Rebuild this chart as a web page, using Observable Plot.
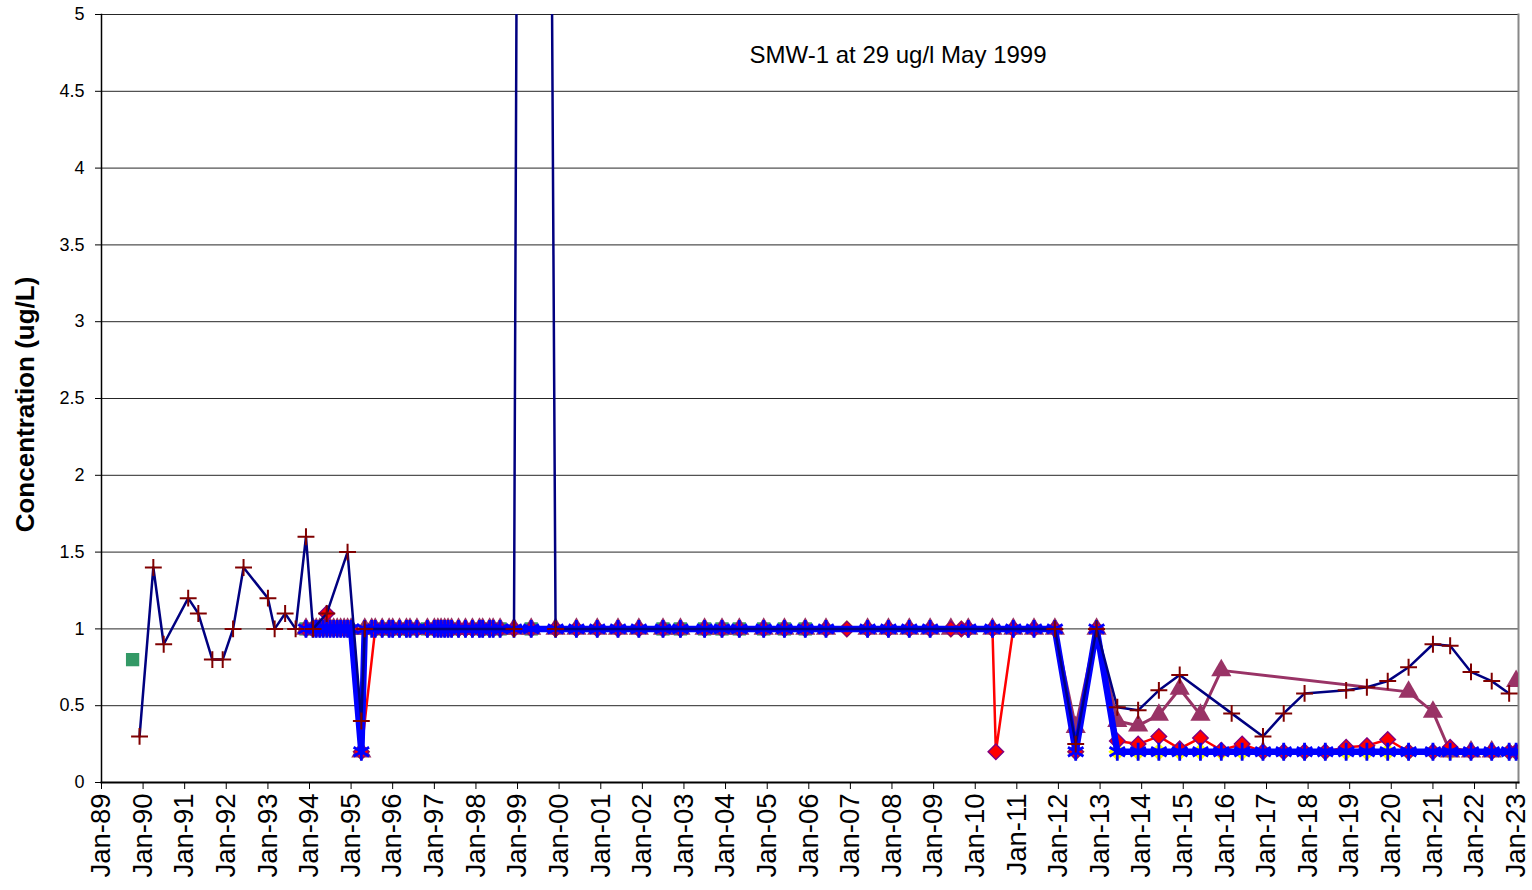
<!DOCTYPE html>
<html>
<head>
<meta charset="utf-8">
<script src="https://cdn.jsdelivr.net/npm/d3@7"></script>
<script src="https://cdn.jsdelivr.net/npm/@observablehq/plot@0.6"></script>
<style>
  html, body { margin: 0; padding: 0; background: #fff; }
  #chart svg { display: block; }
</style>
</head>
<body>
<div id="chart"></div>
<script>
// ---------- data ----------
const yearTicks = d3.range(1989, 2024).map(y => `${y}-01`);
const yTicks = [0, 0.5, 1, 1.5, 2, 2.5, 3, 3.5, 4, 4.5, 5];
const yLabel = "Concentration (ug/L)";
const annotation = "SMW-1 at 29 ug/l May 1999";

// navy line, dark red "+" markers
const navyDates = ["1989-12","1990-04","1990-07","1991-02","1991-05","1991-09","1991-12","1992-03","1992-06","1993-01",
  "1993-03","1993-06","1993-09","1993-12","1994-02","1994-06","1994-12","1995-04","1995-05","1998-12",
  "1999-05","1999-12","2011-12","2012-06","2012-12","2013-06","2013-12","2014-06","2014-12","2016-03",
  "2016-12","2017-06","2017-12","2018-12","2019-06","2019-12","2020-06","2021-01","2021-06","2021-12",
  "2022-06","2022-11"];
const navyValues = [0.3,1.4,0.9,1.2,1.1,0.8,0.8,1.0,1.4,1.2,
  1.0,1.1,1.0,1.6,1.0,1.1,1.5,0.4,1.0,1.0,
  29,1.0,1.0,0.25,1.0,0.49,0.47,0.6,0.7,0.45,
  0.3,0.45,0.58,0.6,0.62,0.66,0.75,0.9,0.89,0.72,
  0.66,0.58];

// green squares (markers only)
const greenDates = ["1989-10","1993-12","1994-03","1994-06","1994-09","1994-12","1995-10","1995-12","1996-03","1996-06",
  "1996-11","1997-03","1997-06","1998-02","1998-05","1998-08","1999-05","2002-07","2002-12","2003-07",
  "2003-12","2004-05","2004-12","2005-06","2005-12"];
const greenValues = [0.8,1,1,1,1,1,1,1,1,1, 1,1,1,1,1,1,1,1,1,1, 1,1,1,1,1];

// shared sampling dates of the other series
const sampleDates = ["1993-12","1994-02","1994-03","1994-04","1994-05","1994-06","1994-07","1994-08","1994-09","1994-10",
  "1994-11","1994-12","1995-01","1995-04","1995-05","1995-07","1995-08","1995-10","1995-12","1996-01",
  "1996-03","1996-05","1996-06","1996-08","1996-11","1997-01","1997-02","1997-03","1997-04","1997-05",
  "1997-06","1997-08","1997-10","1997-12","1998-02","1998-03","1998-05","1998-06","1998-08","1998-12",
  "1999-05","1999-12","2000-06","2000-12","2001-06","2001-12","2002-07","2002-12","2003-07","2003-12",
  "2004-05","2004-12","2005-06","2005-12","2006-06","2006-12","2007-06","2007-12","2008-06","2008-12",
  "2009-06","2009-09","2009-11","2010-06","2010-07","2010-12","2011-06","2011-12","2012-06","2012-12",
  "2013-06","2013-12","2014-06","2014-12","2015-06","2015-12","2016-06","2016-12","2017-06","2017-12",
  "2018-06","2018-12","2019-06","2019-12","2020-06","2021-01","2021-06","2021-12","2022-06","2022-11",
  "2023-01"];
// null = not sampled; NaN = break in the line
const blueValues = [1,1,1,1,1,1,1,1,1,1, 1,1,1,0.2,1,1,1,1,1,1,
  1,1,1,1,1,1,1,1,1,1, 1,1,1,1,1,1,1,1,1,1,
  1,1,1,1,1,1,1,1,1,1, 1,1,1,1,1,null,1,1,1,1,
  null,null,1,1,null,1,1,1,0.2,1,
  0.2,0.2,0.2,0.2,0.2,0.2,0.2,0.2,0.2,0.2, 0.2,0.2,0.2,0.2,0.2,0.2,0.2,0.2,0.2,0.2, 0.2];
const redValues = [1,1,1,1,1,1.1,1,1,1,1, 1,1,1,0.2,null,null,1,1,1,1,
  1,1,1,1,1,1,1,1,1,1, 1,1,1,1,1,1,1,1,1,1,
  1,1,1,1,1,1,1,1,1,1, 1,1,1,1,1,1,1,1,1,1,
  1,1,1,1,0.2,1,1,1,0.2,1,
  0.27,0.25,0.30,0.22,0.29,0.21,0.25,0.2,0.2,0.2, 0.2,0.23,0.24,0.28,0.2,0.2,0.23,0.2,0.2,0.2, 0.2];
const purpleValues = [1,1,1,1,1,1,1,1,1,1, 1,1,1,0.2,1,1,1,1,1,1,
  1,1,1,1,1,1,1,1,1,1, 1,1,1,1,1,1,1,1,1,1,
  1,1,1,1,1,1,1,1,1,1, 1,1,1,1,1,null,1,1,1,1,
  1,null,1,1,null,1,1,1,0.36,1,
  0.40,0.37,0.44,0.61,0.44,0.73,null,null,null,null, null,null,null,null,0.59,0.46,0.2,0.2,0.2,NaN, 0.66];
const yellowValues = [1,1,1,1,1,1,1,1,1,1, 1,1,1,0.2,1,1,1,1,1,1,
  1,1,1,1,1,1,1,1,1,1, 1,1,1,1,1,1,1,1,1,1,
  1,1,1,1,1,1,1,1,1,1, 1,1,1,1,1,1,1,1,1,1,
  1,1,1,1,null,1,1,1,0.2,1,
  0.2,0.2,0.2,0.2,0.2,0.2,0.2,0.2,0.2,0.2, 0.2,0.2,0.2,0.2,0.2,0.2,0.2,0.2,0.2,0.2, 0.2];

// ---------- build ----------
const parse = d3.utcParse("%Y-%m");
const pairs = (dates, values) => dates.map((d, i) => ({date: parse(d), value: values[i]}))
  .filter(d => d.value !== null && d.value !== undefined);
const pts = rows => rows.filter(d => Number.isFinite(d.value));

const navy = pairs(navyDates, navyValues);
const green = pairs(greenDates, greenValues);
const blue = pairs(sampleDates, blueValues);
const red = pairs(sampleDates, redValues);
const purple = pairs(sampleDates, purpleValues);
const yellow = pairs(sampleDates, yellowValues);

const xy = {x: "date", y: "value", clip: true};
const font = "'Liberation Sans', Arial, Helvetica, sans-serif";

const chart = Plot.plot({
  width: 1532,
  height: 890,
  marginLeft: 101,
  marginRight: 14,
  marginTop: 14,
  marginBottom: 108,
  style: {fontFamily: font, background: "#fff", color: "#000", overflow: "visible"},
  x: {type: "utc", domain: [parse("1989-01"), new Date(Date.UTC(2023, 0, 22))]},
  y: {domain: [0, 5]},
  marks: [
    Plot.ruleY(yTicks, {stroke: "#000", strokeWidth: 1, strokeOpacity: 0.85}),
    Plot.frame({anchor: "right", stroke: "#888", strokeWidth: 2}),
    // yellow diamonds
    Plot.dot(pts(yellow), {...xy, symbol: "diamond2", r: 8, fill: "#FFFF00", stroke: "none"}),
    // green squares
    Plot.dot(pts(green), {...xy, symbol: "square", r: 7.5, fill: "#339966", stroke: "none"}),
    // purple triangles
    Plot.line(purple, {...xy, stroke: "#993366", strokeWidth: 3}),
    Plot.dot(pts(purple), {...xy, symbol: "triangle", r: 7.5, fill: "#993366", stroke: "none"}),
    // red diamonds
    Plot.line(red, {...xy, stroke: "#FF0000", strokeWidth: 2.5}),
    Plot.dot(pts(red), {...xy, symbol: "diamond2", r: 7, fill: "#FF0000", stroke: "#800080", strokeWidth: 1.4}),
    // blue thick line with asterisks
    Plot.line(blue, {...xy, stroke: "#0000FF", strokeWidth: 6.5}),
    Plot.dot(pts(blue), {...xy, symbol: "asterisk", r: 8.5, stroke: "#0000FF", strokeWidth: 2.8, fill: "none"}),
    // navy line with dark red plus
    Plot.line(navy, {...xy, stroke: "#000080", strokeWidth: 2.5}),
    Plot.dot(pts(navy), {...xy, symbol: "plus", r: 5.5, stroke: "#800000", strokeWidth: 2, fill: "none"}),
    // axes
    Plot.frame({anchor: "left", stroke: "#000", strokeWidth: 1.5}),
    Plot.frame({anchor: "bottom", stroke: "#000", strokeWidth: 2}),
    Plot.axisY({ticks: yTicks, tickFormat: d => String(d), tickSize: 6, tickPadding: 11, fontSize: 18, label: null}),
    Plot.axisX({ticks: yearTicks.map(parse), tickFormat: d3.utcFormat("Jan-%y"), tickRotate: -90,
      tickSize: 7, tickPadding: 4, fontSize: 27.5, label: null}),
    Plot.text([yLabel], {text: d => d, frameAnchor: "left", rotate: -90, dx: -76, dy: 6,
      fontSize: 26, fontWeight: "bold", textAnchor: "middle", lineAnchor: "middle"}),
    Plot.text([annotation], {text: d => d, frameAnchor: "top", dx: 88, dy: 41,
      fontSize: 24, textAnchor: "middle", lineAnchor: "middle"})
  ]
});
document.getElementById("chart").appendChild(chart);
</script>
</body>
</html>
